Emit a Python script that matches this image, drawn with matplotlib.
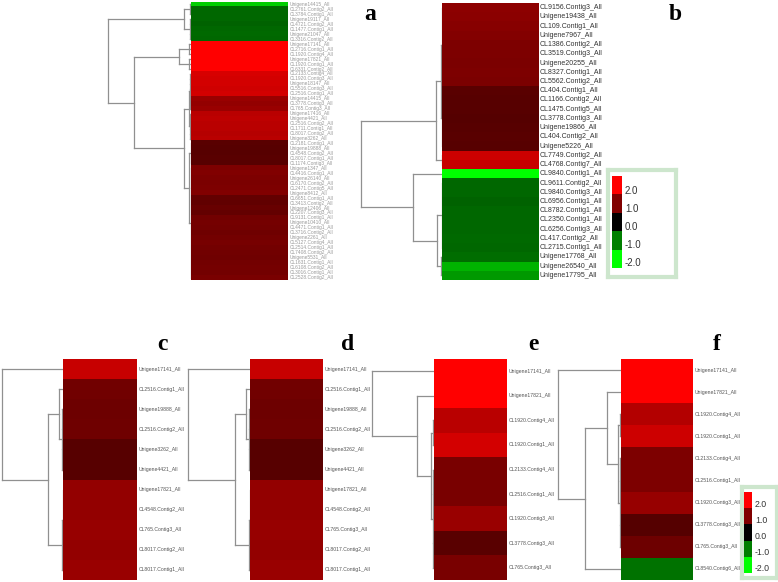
import matplotlib.pyplot as plt
import numpy as np
from matplotlib.colors import LinearSegmentedColormap

plt.rcParams['font.family'] = ['Liberation Sans', 'DejaVu Sans']

# ---- data ----
labels_a = [
    "Unigene14415_All", "CL2761.Contig2_All", "CL3784.Contig1_All", "Unigene19117_All",
    "CL4721.Contig2_All", "CL1477.Contig1_All", "Unigene21047_All", "CL3316.Contig2_All",
    "Unigene17141_All", "CL2716.Contig1_All", "CL1920.Contig4_All", "Unigene17821_All",
    "CL1920.Contig1_All", "CL6331.Contig2_All", "CL2133.Contig4_All", "CL1920.Contig3_All",
    "Unigene18147_All", "CL5516.Contig3_All", "CL2516.Contig1_All", "Unigene14415_All",
    "CL3778.Contig3_All", "CL765.Contig3_All", "Unigene17416_All", "Unigene4421_All",
    "CL2516.Contig2_All", "CL1711.Contig1_All", "CL8017.Contig2_All", "Unigene3262_All",
    "CL2181.Contig1_All", "Unigene19888_All", "CL4548.Contig2_All", "CL8017.Contig1_All",
    "CL1174.Contig3_All", "Unigene1347_All", "CL4416.Contig1_All", "Unigene26140_All",
    "CL6170.Contig2_All", "CL2471.Contig5_All", "Unigene8412_All", "CL6651.Contig1_All",
    "CL3413.Contig2_All", "Unigene12406_All", "CL2207.Contig3_All", "CL9131.Contig1_All",
    "Unigene10410_All", "CL4471.Contig1_All", "CL3716.Contig2_All", "Unigene2261_All",
    "CL5127.Contig4_All", "CL2514.Contig1_All", "CL7408.Contig2_All", "Unigene5531_All",
    "CL1631.Contig1_All", "CL6108.Contig2_All", "CL3016.Contig1_All", "CL2528.Contig2_All",
]
values_a = [
    -1.6, -0.8, -0.8, -0.8, -0.78, -0.8, -0.82, -0.8,
    2.0, 2.0, 2.0, 2.0, 2.0, 2.0,
    1.68, 1.65, 1.65, 1.62, 1.65,
    1.2, 1.15, 1.2,
    1.45, 1.48, 1.45, 1.45, 1.42, 1.45,
    0.7, 0.68, 0.68, 0.7, 0.68,
    0.98, 1.0, 0.98, 0.96, 0.98, 1.0,
    0.78, 0.76, 0.8, 0.78,
    0.88, 0.92, 0.9, 0.86, 0.9, 0.93, 0.9, 0.88, 0.86, 0.9, 0.92, 0.9, 0.95,
]

labels_b = [
    "CL9156.Contig3_All", "Unigene19438_All", "CL109.Contig1_All", "Unigene7967_All",
    "CL1386.Contig2_All", "CL3519.Contig3_All", "Unigene20255_All", "CL8327.Contig1_All",
    "CL5562.Contig2_All", "CL404.Contig1_All", "CL1166.Contig2_All", "CL1475.Contig5_All",
    "CL3778.Contig3_All", "Unigene19866_All", "CL404.Contig2_All", "Unigene5226_All",
    "CL7749.Contig2_All", "CL4768.Contig7_All", "CL9840.Contig1_All", "CL9611.Contig2_All",
    "CL9840.Contig3_All", "CL6956.Contig1_All", "CL8782.Contig1_All", "CL2350.Contig1_All",
    "CL6256.Contig3_All", "CL417.Contig2_All", "CL2715.Contig1_All", "Unigene17768_All",
    "Unigene26540_All", "Unigene17795_All",
]
values_b = [
    1.1, 1.08, 1.05, 1.02, 0.98, 0.98, 0.96, 0.98, 0.96,
    0.7, 0.68, 0.68, 0.66, 0.68, 0.7, 0.68,
    1.6, 1.55,
    -2.0,
    -0.8, -0.8, -0.78, -0.8, -0.8, -0.8, -0.82, -0.8, -0.85,
    -1.4, -1.2,
]

labels_c = [
    "Unigene17141_All", "CL2516.Contig1_All", "Unigene19888_All", "CL2516.Contig2_All",
    "Unigene3262_All", "Unigene4421_All", "Unigene17821_All", "CL4548.Contig2_All",
    "CL765.Contig3_All", "CL8017.Contig2_All", "CL8017.Contig1_All",
]
values_c = [1.55, 0.88, 0.85, 0.86, 0.68, 0.68, 1.15, 1.15, 1.18, 1.15, 1.2]
labels_d = labels_c
values_d = values_c

labels_e = [
    "Unigene17141_All", "Unigene17821_All", "CL1920.Contig4_All", "CL1920.Contig1_All",
    "CL2133.Contig4_All", "CL2516.Contig1_All", "CL1920.Contig3_All", "CL3778.Contig3_All",
    "CL765.Contig3_All",
]
values_e = [2.0, 2.0, 1.45, 1.65, 0.95, 0.95, 1.2, 0.7, 0.95]

labels_f = labels_e + ["CL8540.Contig6_All"]
values_f = [2.0, 2.0, 1.4, 1.6, 0.98, 0.98, 1.18, 0.66, 0.85, -0.9]

legend_ticks = [2.0, 1.0, 0.0, -1.0, -2.0]


def r(a, b):
    return list(range(a, b + 1))


# dendrograms: (height, [children]), leaves are row indices
tree_a = (1.0, [
    (0.09, [(0.01, r(0, 2)), (0.01, r(3, 7))]),
    (0.69, [
        (0.145, [(0.02, r(8, 10)), (0.02, r(11, 13))]),
        (0.084, [(0.03, [(0.008, r(14, 21)), (0.008, r(22, 27))]),
                 (0.02, [(0.006, r(28, 32)), (0.006, r(33, 55))])]),
    ]),
])
tree_b = (1.0, [
    (0.074, [(0.012, [(0.004, r(0, 8)), (0.004, r(9, 15))]), (0.006, [16, 17])]),
    (0.36, [18, (0.062, [(0.006, r(19, 26)), (0.01, [27, 28, 29])])]),
])
tree_c = (1.0, [0, (0.25, [(0.066, [1, (0.012, [2, 3, 4, 5])]),
                           (0.016, [(0.008, [6, 7, 8, 9]), 10])])])
tree_d = tree_c
tree_e = (1.0, [0, (0.27, [1, (0.05, [(0.015, [2, 3]), (0.015, [4, 5, 6, 7, 8])])])])
tree_f = (1.0, [0, (0.57, [(0.22, [1, (0.05, [(0.015, [2, 3]), (0.015, [4, 5, 6, 7, 8])])]), 9])])

# ---- drawing ----
W, H = 778, 582
fig = plt.figure(figsize=(W / 100, H / 100), dpi=100)
cmap = LinearSegmentedColormap.from_list('grn_red', [(0, 1, 0), (0, 0, 0), (1, 0, 0)])


def box(x0, y0, x1, y1):
    return fig.add_axes([x0 / W, 1 - y1 / H, (x1 - x0) / W, (y1 - y0) / H])


def heat(x0, y0, x1, y1, vals, labels, fs, col):
    ax = box(x0, y0, x1, y1)
    n = len(vals)
    ax.imshow(np.array(vals)[:, None], cmap=cmap, vmin=-2, vmax=2, aspect='auto',
              interpolation='nearest', extent=(0, 1, n, 0))
    ax.set_xlim(0, 1)
    ax.set_ylim(n, 0)
    ax.axis('off')
    for i, lab in enumerate(labels):
        ax.annotate(lab, xy=(1, i + 0.5), xycoords=ax.get_yaxis_transform(),
                    xytext=(1.2, 0), textcoords='offset points', va='center',
                    ha='left', fontsize=fs, color=col)


def dendro(x0, y0, x1, y1, tree, n):
    ax = box(x0, y0, x1, y1)
    ax.set_xlim(1, 0)
    ax.set_ylim(n, 0)
    ax.axis('off')

    def walk(node):
        if isinstance(node, int):
            return node + 0.5, 0.0
        h, kids = node
        pts = [walk(k) for k in kids]
        ps = [p for p, _ in pts]
        ax.plot([h, h], [min(ps), max(ps)], color='#909090', lw=0.9, clip_on=False)
        for p, ch in pts:
            ax.plot([ch, h], [p, p], color='#909090', lw=0.9, clip_on=False)
        return (ps[0] + ps[-1]) / 2, h

    walk(tree)


def legend(bx0, by0, bx1, by1, sx0, sy0, sx1, sy1, fs):
    frame = box(bx0, by0, bx1, by1)
    frame.set_xticks([])
    frame.set_yticks([])
    for sp in frame.spines.values():
        sp.set_color('#cde6cd')
        sp.set_linewidth(3)
    ax = box(sx0, sy0, sx1, sy1)
    ax.imshow(np.array(legend_ticks)[:, None], cmap=cmap, vmin=-2, vmax=2,
              aspect='auto', interpolation='nearest')
    ax.axis('off')
    for i, t in enumerate(legend_ticks):
        yy = sy0 + (sy1 - sy0) * (0.16 + 0.197 * i)
        fig.text((sx1 + 3) / W, 1 - yy / H, f"{t:.1f}", fontsize=fs, color='#333333',
                 va='center', ha='left')


# panel a (labels squeezed into very thin rows)
dendro(108, 2, 191, 280, tree_a, len(values_a))
heat(191, 2, 288, 280, values_a, labels_a, 3.5, '#9a9a9a')
# panel b
dendro(361, 3, 442, 280, tree_b, len(values_b))
heat(442, 3, 538, 280, values_b, labels_b, 5.0, '#333333')
legend(608, 170, 676, 277, 612, 176, 622, 268, 7)
# panels c-f
dendro(2, 359, 63, 580, tree_c, len(values_c))
heat(63, 359, 137, 580, values_c, labels_c, 3.7, '#555555')
dendro(188, 359, 250, 580, tree_d, len(values_d))
heat(250, 359, 323, 580, values_d, labels_d, 3.7, '#555555')
dendro(372, 359, 434, 580, tree_e, len(values_e))
heat(434, 359, 507, 580, values_e, labels_e, 3.7, '#555555')
dendro(558, 359, 621, 580, tree_f, len(values_f))
heat(621, 359, 693, 580, values_f, labels_f, 3.7, '#555555')
legend(742, 487, 777, 578, 744, 492, 752, 573, 6.3)

for letter, x, y in [('a', 370, 15), ('b', 675, 15), ('c', 162, 345),
                     ('d', 348, 345), ('e', 533, 345), ('f', 717, 345)]:
    fig.text(x / W, 1 - y / H, letter, fontsize=17, fontweight='bold',
             family='Liberation Serif', ha='center', va='center')

fig.savefig('out.png', dpi=100)
